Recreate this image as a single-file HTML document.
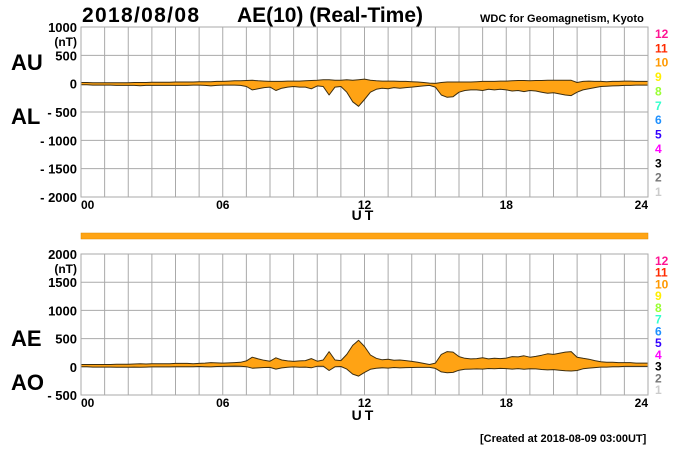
<!DOCTYPE html>
<html><head><meta charset="utf-8">
<style>
body{margin:0;background:#fff;width:700px;height:450px;overflow:hidden;font-family:"Liberation Sans",Arial,sans-serif}
svg{display:block}
text{font-family:"Liberation Sans",Arial,sans-serif}
</style></head>
<body>
<svg id="chart" width="700" height="450" viewBox="0 0 700 450">
<text x="82" y="22" font-size="21" font-weight="bold" textLength="117">2018/08/08</text>
<text x="237" y="22" font-size="21" font-weight="bold" textLength="186">AE(10) (Real-Time)</text>
<text x="480" y="22" font-size="11" font-weight="bold">WDC for Geomagnetism, Kyoto</text>
<text x="11" y="70" font-size="22" font-weight="bold">AU</text>
<text x="11" y="124" font-size="22" font-weight="bold">AL</text>
<text x="11" y="346" font-size="22" font-weight="bold">AE</text>
<text x="11" y="390" font-size="22" font-weight="bold">AO</text>
<text x="364" y="220" font-size="14" font-weight="bold" text-anchor="middle" letter-spacing="3">UT</text>
<text x="364" y="420" font-size="14" font-weight="bold" text-anchor="middle" letter-spacing="3">UT</text>
<text x="480" y="442" font-size="11" font-weight="bold">[Created at 2018-08-09 03:00UT]</text>
<rect x="81" y="233" width="567" height="6" fill="#ffa414" stroke="#e08a00" stroke-width="0.5"/>
<g id="top"></g>
<g id="bot"></g>
</svg>
<script>
const hours=[0,6,12,18,24];
const topTicks=[1000,500,0,-500,-1000,-1500,-2000];
const botTicks=[2000,1500,1000,500,0,-500];
const stationLabels=['12','11','10','9','8','7','6','5','4','3','2','1'];
const stationColors=['#ff1493','#ff2a00','#ff9900','#ffee00','#99ff33','#33ffcc','#1e90ff','#3300ff','#ff00ff','#000000','#777777','#cccccc'];
// quarter-hour samples 0..24
const AU=[20,20,15,15,15,15,15,15,15,20,20,20,25,25,25,25,30,30,30,30,35,35,35,40,40,45,50,50,55,60,50,45,40,40,40,45,45,45,50,55,60,70,70,60,60,70,60,70,80,60,50,45,45,45,40,40,35,30,20,10,5,20,30,30,30,30,30,35,40,40,40,45,45,50,55,55,50,55,55,60,60,60,60,60,20,40,45,40,40,35,40,40,45,45,40,40,40];
const AL=[-20,-20,-25,-25,-25,-25,-30,-30,-30,-30,-35,-30,-30,-30,-30,-30,-30,-30,-30,-25,-25,-30,-40,-30,-25,-25,-25,-30,-50,-110,-90,-70,-60,-120,-80,-60,-50,-60,-60,-90,-40,-50,-200,-60,-50,-150,-320,-400,-280,-150,-100,-80,-90,-70,-80,-70,-60,-50,-40,-30,-60,-200,-240,-230,-150,-120,-110,-110,-120,-100,-110,-100,-110,-130,-120,-140,-120,-130,-150,-170,-160,-180,-200,-210,-150,-110,-90,-70,-50,-45,-40,-35,-30,-30,-25,-25,-25];
const NS='http://www.w3.org/2000/svg';
const X0=81,X1=648;
const xs=h=>X0+(X1-X0)*h/24;
function mk(tag,attrs,parent){const e=document.createElementNS(NS,tag);for(const k in attrs)e.setAttribute(k,attrs[k]);parent.appendChild(e);return e;}
function panel(g,top,bot,vmax,vmin,ticks,upper,lower,pfx){
  const ys=v=>top+(vmax-v)*(bot-top)/(vmax-vmin);
  for(let h=0;h<=24;h++){const l=mk('line',{x1:xs(h),x2:xs(h),y1:top,y2:bot,stroke:'#aaa','stroke-width':1},g);
    
    }
  ticks.forEach(t=>{const l=mk('line',{x1:X0,x2:X1,y1:ys(t),y2:ys(t),stroke:'#aaa','stroke-width':1},g);
    
    
    const tx=mk('text',{x:X0-4,y:ys(t)+5,'font-size':13,'font-weight':'bold','text-anchor':'end'},g);
    tx.textContent=t<0?'- '+(-t):String(t);
    
    });
  const nt=mk('text',{x:X0-4,y:ys(ticks[0])+19,'font-size':12,'font-weight':'bold','text-anchor':'end'},g);
  nt.textContent='(nT)';
  
  
  hours.forEach(h=>{const tx=mk('text',{x:xs(h),y:bot+12,'font-size':12,'font-weight':'bold','text-anchor':h==0?'start':(h==24?'end':'middle')},g);
    tx.textContent=String(h).padStart(2,'0');
    
    });
  let d='';
  upper.forEach((v,i)=>{d+=(i?'L':'M')+xs(i*0.25).toFixed(1)+' '+ys(v).toFixed(1);});
  for(let i=lower.length-1;i>=0;i--)d+='L'+xs(i*0.25).toFixed(1)+' '+ys(lower[i]).toFixed(1);
  d+='Z';
  const p=mk('path',{d:d,fill:'#ffa314',stroke:'#3d2e10','stroke-width':1,'stroke-linejoin':'round'},g);
  
  
  mk('rect',{x:X0,y:top,width:X1-X0,height:bot-top,fill:'none',stroke:'#aaa','stroke-width':1},g);
  const step=(bot-top-12)/11;
  stationLabels.forEach((s,i)=>{const tx=mk('text',{x:655,y:top+11+i*step,'font-size':12,'font-weight':'bold',fill:stationColors[i]},g);
    tx.textContent=s;
    
    });
}
panel(document.getElementById('top'),27,197,1000,-2000,topTicks,AU,AL,'top');
const AE=AU.map((u,i)=>u-AL[i]);
const AO=AU.map((u,i)=>(u+AL[i])/2);
panel(document.getElementById('bot'),254,395,2000,-500,botTicks,AE,AO,'bottom');
</script>
</body></html>
